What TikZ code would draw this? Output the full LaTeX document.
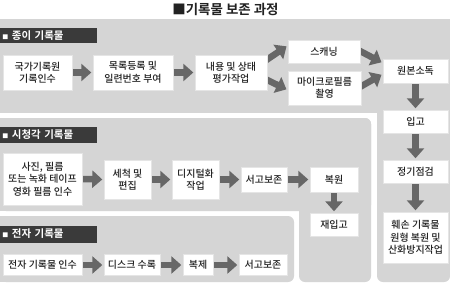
\documentclass[tikz,border=0pt]{standalone}
\usepackage{fontspec}
\setmainfont{Noto Sans CJK KR}[UprightFont={* Medium}, BoldFont={* Bold}]
\usetikzlibrary{arrows.meta,calc}
\definecolor{panel}{HTML}{D5D5D5}
\definecolor{labelbg}{HTML}{3A3A3A}
\definecolor{arr}{HTML}{676767}
\definecolor{txt}{HTML}{222222}
\pgfdeclarelayer{bg}
\pgfdeclarelayer{arrlayer}
\pgfsetlayers{bg,arrlayer,main}
\begin{document}
\begin{tikzpicture}[x=1bp,y=-1bp,
  box/.style={fill=white, draw=black!10, line width=0.4bp, inner sep=1bp, align=center,
    text=txt, font=\fontsize{10}{12.5}\selectfont},
  lbl/.style={fill=labelbg, text=white, font=\bfseries\fontsize{10.5}{12}\selectfont,
    minimum width=97bp, minimum height=15bp, inner sep=0pt, text width=92bp, align=left},
  blk/.style={draw=arr, line width=6.5bp, -{Triangle[width=17bp,length=10bp]}, shorten >=1.5bp}
]
\useasboundingbox (0,0) rectangle (450,284);

% title
\node[text=txt, font=\bfseries\fontsize{13.5}{15}\selectfont] (title) at (225.5,9.5) {■기록물 보존 과정};

% section labels
\node[lbl] (L1) at (48.5,35.5) {{\fontsize{6}{6}\selectfont ■} 종이 기록물};
\node[lbl, minimum height=16bp] (L2) at (48.5,135) {{\fontsize{6}{6}\selectfont ■} 시청각 기록물};
\node[lbl, minimum height=17bp] (L3) at (48.5,234) {{\fontsize{6}{6}\selectfont ■} 전자 기록물};

% paper row
\node[box, minimum width=69bp, minimum height=35bp] (p1) at (37.5,72.5) {국가기록원\\기록인수};
\node[box, minimum width=80bp, minimum height=35bp] (p2) at (133,72.5) {목록등록 및\\일련번호 부여};
\node[box, minimum width=72bp, minimum height=35bp] (p3) at (231,72.5) {내용 및 상태\\평가작업};
\node[box, minimum width=72bp, minimum height=23bp] (scan) at (324,51.5) {스캐닝};
\node[box, minimum width=73bp, minimum height=34bp] (micro) at (324.5,88) {마이크로필름\\촬영};
\node[box, minimum width=65bp, minimum height=24bp] (orig) at (415.5,71) {원본소독};
\node[box, minimum width=65bp, minimum height=23bp] (ipgo) at (415.5,121.5) {입고};
\node[box, minimum width=65bp, minimum height=23bp] (check) at (415.5,171.5) {정기점검};
\node[box, minimum width=65bp, minimum height=51bp] (dmg) at (415.5,237.5) {훼손 기록물\\원형 복원 및\\산화방지작업};

% audio-visual row
\node[box, minimum width=79bp, minimum height=52bp] (a1) at (42.5,179) {사진, 필름\\또는 녹화 테이프\\영화 필름 인수};
\node[box, minimum width=47bp, minimum height=39bp] (a2) at (127.5,179.5) {세척 및\\편집};
\node[box, minimum width=47bp, minimum height=39bp] (a3) at (195.5,179.5) {디지털화\\작업};
\node[box, minimum width=46bp, minimum height=25bp] (a4) at (264,179.5) {서고보존};
\node[box, minimum width=48bp, minimum height=25bp] (a5) at (334,179.5) {복원};
\node[box, minimum width=48bp, minimum height=23bp] (a6) at (334,224.5) {재입고};

% electronic row
\node[box, minimum width=79bp, minimum height=21bp] (e1) at (42.5,265) {전자 기록물 인수};
\node[box, minimum width=56bp, minimum height=21bp] (e2) at (132,265) {디스크 수록};
\node[box, minimum width=30bp, minimum height=21bp] (e3) at (198,265) {복제};
\node[box, minimum width=48bp, minimum height=21bp] (e4) at (263,265) {서고보존};

\begin{pgfonlayer}{bg}
  \fill[white] (0,0) rectangle (450,284);
  % paper panel + right column
  \fill[panel] (0,19) rectangle (450,113);
  \fill[panel, rounded corners=6bp] (377,19) rectangle (450,282);
  \fill[panel] (377,19) rectangle (450,120);
  % audio-visual panel
  \fill[panel, rounded corners=6bp] (0,118) rectangle (371,211);
  \fill[panel] (0,118) rectangle (20,211);
  \fill[panel, rounded corners=6bp] (299,118) rectangle (371,282);
  % electronic panel
  \fill[panel, rounded corners=6bp] (0,216) rectangle (294,282);
  \fill[panel] (0,216) rectangle (20,282);
\end{pgfonlayer}

\begin{pgfonlayer}{arrlayer}
  \draw[blk] (p1.east) -- (p2.west);
  \draw[blk] (p2.east) -- (p3.west);
  \draw[blk] ($(p3.east)+(-3,-11)$) -- ($(scan.west)+(0,-6)$);
  \draw[blk] ($(p3.east)+(-3,6)$) -- ($(micro.west)+(0,2)$);
  \draw[blk] ($(scan.east)+(-3,-2)$) -- ($(orig.west)+(0,-8)$);
  \draw[blk] ($(micro.east)+(-3,0)$) -- ($(orig.west)+(0,3)$);
  \draw[blk] (orig.south) -- (ipgo.north);
  \draw[blk] (ipgo.south) -- (check.north);
  \draw[blk] (check.south) -- (dmg.north);
  \draw[blk] (a1.east) -- (a2.west);
  \draw[blk] (a2.east) -- (a3.west);
  \draw[blk] (a3.east) -- (a4.west);
  \draw[blk] (a4.east) -- (a5.west);
  \draw[blk] (a5.south) -- (a6.north);
  \draw[blk] (e1.east) -- (e2.west);
  \draw[blk] (e2.east) -- (e3.west);
  \draw[blk] (e3.east) -- (e4.west);
\end{pgfonlayer}
\end{tikzpicture}
\end{document}
